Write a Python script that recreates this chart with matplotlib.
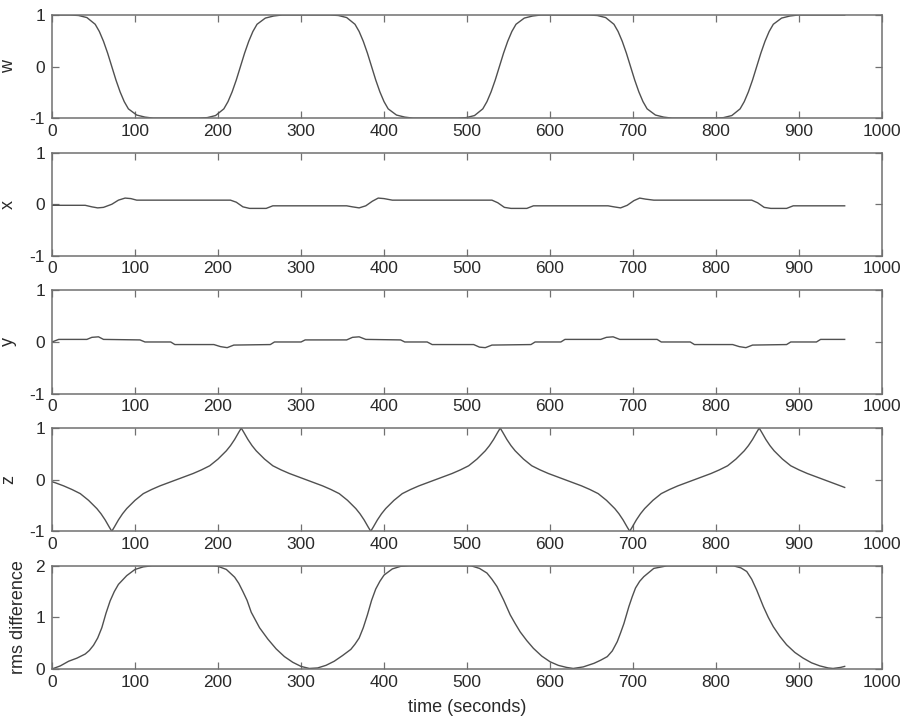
import matplotlib
matplotlib.use("Agg")
import matplotlib.pyplot as plt

plt.rcParams['font.family'] = ['Liberation Sans', 'DejaVu Sans']
plt.rcParams['axes.unicode_minus'] = False

# ---------------- data ----------------
w_t = [0, 22, 32, 42, 52, 57, 62, 67, 72, 77, 82, 87, 92, 102, 112, 122,
       177, 187, 197, 207, 212, 217, 222, 227, 232, 237, 242, 247, 257, 267, 277,
       335, 345, 355, 365, 370, 375, 380, 385, 390, 395, 400, 405, 415, 425, 435,
       489, 499, 509, 519, 524, 529, 534, 539, 544, 549, 554, 559, 569, 579, 589,
       647, 657, 667, 677, 682, 687, 692, 697, 702, 707, 712, 717, 727, 737, 747,
       799, 809, 819, 829, 834, 839, 844, 849, 854, 859, 864, 869, 879, 889, 899, 955]
w_v = [1.0, 1.0, 0.99, 0.95, 0.82, 0.68, 0.49, 0.26, 0.0, -0.26, -0.49, -0.68, -0.82, -0.94, -0.98, -1.0,
       -1.0, -0.99, -0.95, -0.82, -0.68, -0.49, -0.26, 0.0, 0.26, 0.49, 0.68, 0.82, 0.94, 0.98, 1.0,
       1.0, 0.99, 0.95, 0.82, 0.68, 0.49, 0.26, 0.0, -0.26, -0.49, -0.68, -0.82, -0.94, -0.98, -1.0,
       -1.0, -0.99, -0.95, -0.82, -0.68, -0.49, -0.26, 0.0, 0.26, 0.49, 0.68, 0.82, 0.94, 0.98, 1.0,
       1.0, 0.99, 0.95, 0.82, 0.68, 0.49, 0.26, 0.0, -0.26, -0.49, -0.68, -0.82, -0.94, -0.98, -1.0,
       -1.0, -0.99, -0.95, -0.82, -0.68, -0.49, -0.26, 0.0, 0.26, 0.49, 0.68, 0.82, 0.94, 0.98, 1.0, 1.0]

x_t = [0, 40, 48, 55, 62, 72, 80, 88, 95, 102,
       215, 222, 230, 238, 258, 266,
       355, 362, 370, 378, 386, 393, 400, 410,
       530, 537, 545, 553, 572, 580,
       670, 677, 685, 693, 701, 708, 715, 725,
       843, 850, 858, 866, 885, 893, 955]
x_v = [-0.02, -0.02, -0.05, -0.07, -0.06, 0.0, 0.08, 0.12, 0.11, 0.08,
       0.08, 0.04, -0.05, -0.08, -0.08, -0.03,
       -0.03, -0.05, -0.07, -0.03, 0.06, 0.12, 0.11, 0.08,
       0.08, 0.03, -0.06, -0.08, -0.08, -0.03,
       -0.03, -0.05, -0.07, -0.02, 0.07, 0.12, 0.10, 0.08,
       0.08, 0.03, -0.06, -0.08, -0.08, -0.03, -0.03]

y_t = [0, 8, 42, 48, 56, 62, 106, 112, 143, 148, 195, 203, 211, 219,
       263, 268, 300, 305, 355, 362, 370, 378, 420, 425, 452, 458,
       508, 515, 522, 530, 577, 582, 613, 618, 661, 668, 676, 684,
       729, 734, 769, 774, 820, 828, 836, 844, 885, 890, 921, 926, 955]
y_v = [0.0, 0.05, 0.05, 0.09, 0.1, 0.05, 0.04, 0.0, 0.0, -0.05, -0.05, -0.09, -0.11, -0.06,
       -0.05, 0.0, 0.0, 0.04, 0.04, 0.09, 0.1, 0.05, 0.04, 0.0, 0.0, -0.05,
       -0.05, -0.1, -0.11, -0.06, -0.05, 0.0, 0.0, 0.05, 0.05, 0.09, 0.1, 0.05,
       0.05, 0.0, 0.0, -0.05, -0.05, -0.09, -0.11, -0.06, -0.05, 0.0, 0.0, 0.05, 0.05]

z_t = [0, 4, 14, 24, 34, 44, 54, 59, 64, 69, 72,
       75, 80, 85, 90, 100, 110, 120, 130, 140, 150, 160, 170, 180, 190, 200, 210, 215, 220, 225, 228,
       231, 236, 241, 246, 256, 266, 276, 286, 296, 306, 316, 326, 336, 346, 356, 366, 371, 376, 381, 384,
       387, 392, 397, 402, 412, 422, 432, 442, 452, 462, 472, 482, 492, 502, 512, 522, 527, 532, 537, 540,
       543, 548, 553, 558, 568, 578, 588, 598, 608, 618, 628, 638, 648, 658, 668, 678, 683, 688, 693, 696,
       699, 704, 709, 714, 724, 734, 744, 754, 764, 774, 784, 794, 804, 814, 824, 834, 839, 844, 849, 852,
       855, 860, 865, 870, 880, 890, 900, 910, 920, 930, 940, 950, 955]
z_v = [-0.04, -0.06, -0.12, -0.19, -0.27, -0.40, -0.56, -0.66, -0.78, -0.92, -1.0,
       -0.92, -0.78, -0.66, -0.56, -0.40, -0.27, -0.19, -0.12, -0.06, 0.0, 0.06, 0.12, 0.19, 0.27, 0.40, 0.56, 0.66, 0.78, 0.92, 1.0,
       0.92, 0.78, 0.66, 0.56, 0.40, 0.27, 0.19, 0.12, 0.06, 0.0, -0.06, -0.12, -0.19, -0.27, -0.40, -0.56, -0.66, -0.78, -0.92, -1.0,
       -0.92, -0.78, -0.66, -0.56, -0.40, -0.27, -0.19, -0.12, -0.06, 0.0, 0.06, 0.12, 0.19, 0.27, 0.40, 0.56, 0.66, 0.78, 0.92, 1.0,
       0.92, 0.78, 0.66, 0.56, 0.40, 0.27, 0.19, 0.12, 0.06, 0.0, -0.06, -0.12, -0.19, -0.27, -0.40, -0.56, -0.66, -0.78, -0.92, -1.0,
       -0.92, -0.78, -0.66, -0.56, -0.40, -0.27, -0.19, -0.12, -0.06, 0.0, 0.06, 0.12, 0.19, 0.27, 0.40, 0.56, 0.66, 0.78, 0.92, 1.0,
       0.92, 0.78, 0.66, 0.56, 0.40, 0.27, 0.19, 0.12, 0.06, 0.0, -0.06, -0.12, -0.15]

rms_t = [0, 10, 20, 30, 40, 45, 50, 55, 60, 65, 70, 75, 80, 90, 100, 110, 120,
         195, 200, 210, 220, 225, 230, 235, 240, 245, 250, 260, 270, 280, 290, 300, 310, 320,
         330, 340, 350, 360, 365, 370, 375, 380, 385, 390, 395, 400, 410, 420, 430,
         505, 515, 524, 530, 536, 544, 552, 558, 564, 572, 580, 590, 600, 610, 620, 628, 640,
         653, 661, 669, 675, 681, 685, 689, 695, 699, 703, 708, 713, 725, 741,
         821, 830, 837, 843, 849, 857, 863, 869, 877, 885, 895, 905, 915, 925, 935, 941, 950, 955]
rms_v = [0.0, 0.06, 0.15, 0.21, 0.29, 0.36, 0.46, 0.6, 0.8, 1.08, 1.32, 1.5, 1.64, 1.81, 1.93, 1.98, 2.0,
         2.0, 1.99, 1.93, 1.78, 1.66, 1.5, 1.33, 1.1, 0.95, 0.8, 0.58, 0.39, 0.24, 0.13, 0.05, 0.01, 0.02,
         0.07, 0.15, 0.26, 0.38, 0.48, 0.6, 0.8, 1.05, 1.33, 1.55, 1.7, 1.82, 1.94, 1.99, 2.0,
         2.0, 1.95, 1.86, 1.74, 1.6, 1.34, 1.05, 0.88, 0.72, 0.55, 0.4, 0.25, 0.14, 0.07, 0.03, 0.01, 0.04,
         0.11, 0.17, 0.24, 0.35, 0.53, 0.7, 0.88, 1.21, 1.4, 1.57, 1.7, 1.79, 1.95, 2.0,
         2.0, 1.96, 1.89, 1.74, 1.53, 1.21, 1.0, 0.82, 0.63, 0.47, 0.32, 0.21, 0.12, 0.06, 0.02, 0.01, 0.03, 0.05]

x_ticks = [0, 100, 200, 300, 400, 500, 600, 700, 800, 900, 1000]
labels = ['w', 'x', 'y', 'z', 'rms difference']
y_ticks = [[-1, 0, 1], [-1, 0, 1], [-1, 0, 1], [-1, 0, 1], [0, 1, 2]]
series = [(w_t, w_v), (x_t, x_v), (y_t, y_v), (z_t, z_v), (rms_t, rms_v)]

for t, v in series:
    assert len(t) == len(v), (len(t), len(v))

# ---------------- figure ----------------
fig, axes = plt.subplots(5, 1, figsize=(9.08, 7.24), dpi=100)
fig.subplots_adjust(left=0.0573, right=0.9714, top=0.9793, bottom=0.076, hspace=0.335)

line_c = '#505050'
spine_c = '#707070'
text_c = '#2a2a2a'

for i, ax in enumerate(axes):
    t, v = series[i]
    ax.plot(t, v, color=line_c, lw=1.0)
    ax.set_xlim(0, 1000)
    yt = y_ticks[i]
    ax.set_ylim(yt[0], yt[-1])
    ax.set_xticks(x_ticks)
    ax.set_yticks(yt)
    ax.set_xticklabels([str(k) for k in x_ticks])
    ax.set_yticklabels([str(k) for k in yt])
    ax.tick_params(direction='in', length=5, width=0.9, top=True, right=True,
                   labelsize=12.5, colors=spine_c, labelcolor=text_c)
    ax.tick_params(axis='x', pad=4)
    ax.tick_params(axis='y', pad=5)
    for s in ax.spines.values():
        s.set_color(spine_c)
        s.set_linewidth(1.1)
    ax.set_ylabel(labels[i], fontsize=13, color=text_c)
    if i < 4:
        ax.yaxis.set_label_coords(-0.042, 0.5)
    else:
        ax.yaxis.set_label_coords(-0.030, 0.5)

axes[-1].set_xlabel('time (seconds)', fontsize=13, color=text_c, labelpad=7)

fig.savefig('out.png', dpi=100)
